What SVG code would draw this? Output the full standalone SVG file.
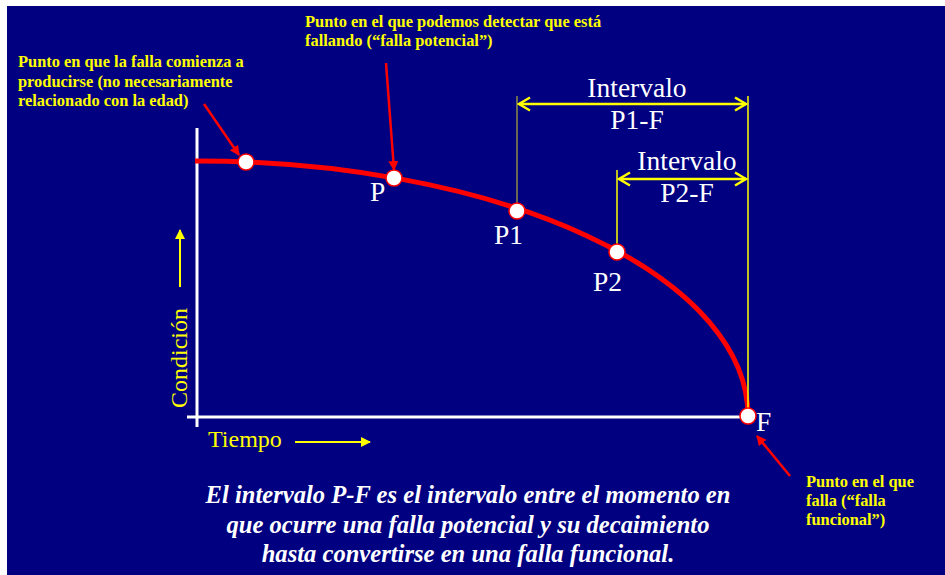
<svg xmlns="http://www.w3.org/2000/svg" width="945" height="575" viewBox="0 0 945 575">
<defs>
<marker id="redHead" markerWidth="10" markerHeight="10" refX="9" refY="5" orient="auto" markerUnits="userSpaceOnUse"><path d="M0,0 L10,5 L0,10 z" fill="#FF0000"/></marker>
<marker id="yelHead" markerWidth="10" markerHeight="10" refX="9" refY="5" orient="auto" markerUnits="userSpaceOnUse"><path d="M0,0 L10,5 L0,10 z" fill="#FFFF00"/></marker>
<marker id="chev" markerWidth="14" markerHeight="16" refX="12" refY="8" orient="auto-start-reverse" markerUnits="userSpaceOnUse"><path d="M1,1.5 L12,8 L1,14.5" fill="none" stroke="#FFFF00" stroke-width="2.5"/></marker>
</defs>
<style>
text{font-family:'Liberation Serif','Times New Roman','DejaVu Serif',serif}
.note{font-weight:bold;fill:#FFFF00;font-size:16.4px}
.lbl{fill:#FFFFFF;font-size:27.5px}
.axis{fill:#FFFF00;font-size:24px}
.pt{fill:#FFFFFF;stroke:#FF0000;stroke-width:1.5}
.cap{font-weight:bold;font-style:italic;fill:#FFFFFF;font-size:24.6px}
</style>
<rect x="0" y="0" width="945" height="575" fill="#FFFFFF"/>
<rect x="7" y="6" width="938" height="569" fill="#000080"/>

<g id="axes">
<line x1="197" y1="128" x2="197" y2="427" stroke="#FFFFFF" stroke-width="3"/>
<line x1="187" y1="417" x2="748" y2="417" stroke="#FFFFFF" stroke-width="3"/>
<text class="axis" transform="translate(187,408) rotate(-90)">Condición</text>
<line x1="180" y1="287" x2="180" y2="230" stroke="#FFFF00" stroke-width="2" marker-end="url(#yelHead)"/>
<text class="axis" x="208" y="447">Tiempo</text>
<line x1="295" y1="442" x2="370" y2="442" stroke="#FFFF00" stroke-width="2" marker-end="url(#yelHead)"/>
</g>

<g id="curve">
<path d="M195,161 L197,161 A551,255 0 0 1 748,416" fill="none" stroke="#FF0000" stroke-width="5"/>
</g>

<g id="guides">
<line x1="517" y1="96" x2="517" y2="211" stroke="#8C8C46" stroke-width="1.5"/>
<line x1="617" y1="170" x2="617" y2="252" stroke="#FFFF00" stroke-width="1.5"/>
<line x1="748" y1="96" x2="748" y2="416" stroke="#FFFF00" stroke-width="1.5"/>
</g>

<g id="connectors">
<line x1="519" y1="104" x2="746" y2="104" stroke="#FFFF00" stroke-width="2.5" marker-start="url(#chev)" marker-end="url(#chev)"/>
<line x1="619" y1="179" x2="746" y2="179" stroke="#FFFF00" stroke-width="2.5" marker-start="url(#chev)" marker-end="url(#chev)"/>
<line x1="204" y1="104" x2="239" y2="155" stroke="#FF0000" stroke-width="2.5" marker-end="url(#redHead)"/>
<line x1="386" y1="63" x2="394" y2="170" stroke="#FF0000" stroke-width="2.5" marker-end="url(#redHead)"/>
<line x1="790" y1="476" x2="757" y2="436" stroke="#FF0000" stroke-width="2.5" marker-end="url(#redHead)"/>
</g>

<g id="node-start"><circle class="pt" cx="246" cy="162" r="8"/></g>
<g id="node-P"><circle class="pt" cx="394" cy="178" r="8"/><text class="lbl" x="370" y="201" font-size="25">P</text></g>
<g id="node-P1"><circle class="pt" cx="517" cy="211" r="8"/><text class="lbl" x="494" y="244">P1</text></g>
<g id="node-P2"><circle class="pt" cx="617" cy="252" r="8"/><text class="lbl" x="593" y="291">P2</text></g>
<g id="node-F"><circle class="pt" cx="748" cy="416" r="8"/><text class="lbl" x="756" y="431">F</text></g>

<g id="interval-P1F">
<text class="lbl" x="637" y="97" text-anchor="middle">Intervalo</text>
<text class="lbl" x="637" y="129" text-anchor="middle">P1-F</text>
</g>
<g id="interval-P2F">
<text class="lbl" x="687" y="170" text-anchor="middle">Intervalo</text>
<text class="lbl" x="687" y="202" text-anchor="middle">P2-F</text>
</g>

<g id="note-start">
<text class="note" x="18" y="67">Punto en que la falla comienza a</text>
<text class="note" x="18" y="87">producirse (no necesariamente</text>
<text class="note" x="18" y="106">relacionado con la edad)</text>
</g>
<g id="note-P">
<text class="note" x="305" y="27">Punto en el que podemos detectar que está</text>
<text class="note" x="305" y="46">fallando (“falla potencial”)</text>
</g>
<g id="note-F">
<text class="note" x="806" y="487" font-size="16px">Punto en el que</text>
<text class="note" x="806" y="506" font-size="16px">falla (“falla</text>
<text class="note" x="806" y="525" font-size="16px">funcional”)</text>
</g>

<g id="caption">
<text class="cap" x="468" y="503" text-anchor="middle">El intervalo P-F es el intervalo entre el momento en</text>
<text class="cap" x="468" y="533" text-anchor="middle">que ocurre una falla potencial y su decaimiento</text>
<text class="cap" x="468" y="562" text-anchor="middle">hasta convertirse en una falla funcional.</text>
</g>
</svg>
